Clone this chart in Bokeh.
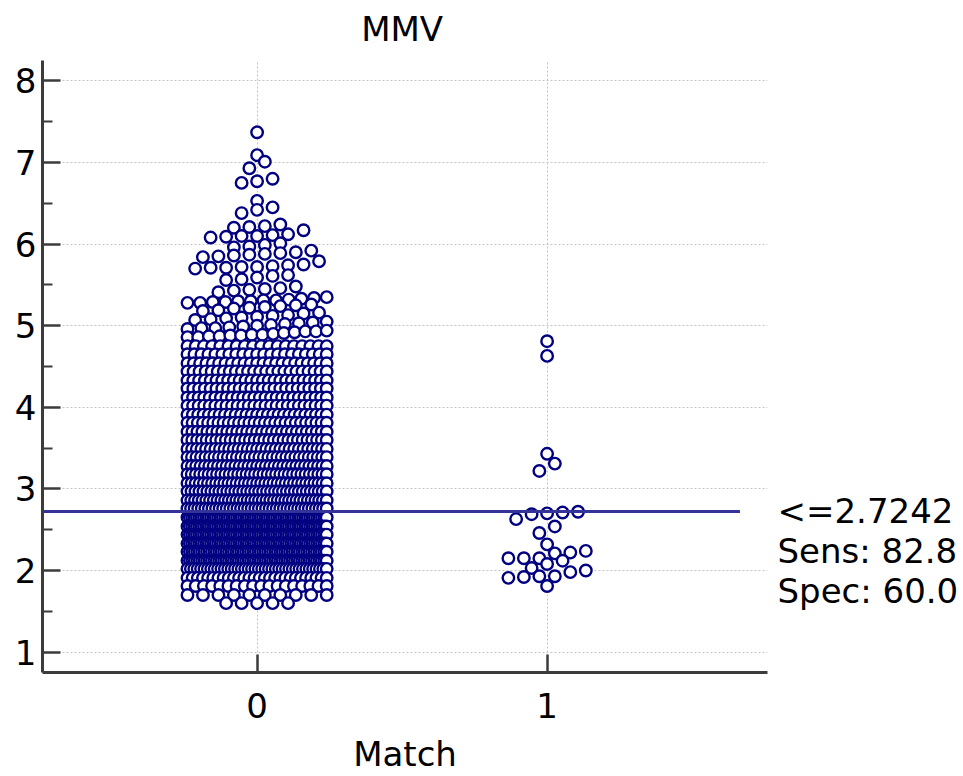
import numpy as np
from bokeh.plotting import figure
from bokeh.models import Range1d, FixedTicker, LinearAxis, ColumnDataSource
from bokeh.embed import file_html
from bokeh.resources import INLINE

# ---- data -------------------------------------------------------------
# Match = 0: dense body, each level with the number of observations on it
g0_levels = [1.60, 1.70, 1.81, 1.91, 2.02, 2.12, 2.23, 2.33, 2.44, 2.54, 2.65,
             2.76, 2.86, 2.97, 3.07, 3.18, 3.28, 3.39, 3.49, 3.60, 3.70,
             3.81, 3.91, 4.02, 4.12, 4.23, 4.33, 4.44, 4.54, 4.65, 4.75]
g0_counts = [5, 10, 18, 28, 42, 58, 58, 60, 60, 60, 60,
             40, 38, 36, 35, 34, 33, 32, 31, 30, 29,
             28, 27, 26, 26, 25, 25, 24, 23, 21, 18]
# Match = 0: upper tail, individual observations
g0_tail = [4.86, 4.86, 4.87, 4.87, 4.88, 4.88, 4.89, 4.89, 4.90, 4.91, 4.92, 4.93, 4.93, 4.94,
           4.96, 4.97, 4.97, 4.98, 4.99, 5.00, 5.01, 5.02, 5.03, 5.04, 5.05,
           5.07, 5.08, 5.09, 5.10, 5.11, 5.12, 5.13, 5.15, 5.16,
           5.18, 5.19, 5.21, 5.22, 5.23, 5.24, 5.25, 5.26,
           5.28, 5.28, 5.29, 5.29, 5.30, 5.30, 5.31, 5.31, 5.32, 5.33, 5.34, 5.35,
           5.41, 5.43, 5.44, 5.45, 5.46, 5.48,
           5.56, 5.57, 5.59, 5.61, 5.62,
           5.70, 5.71, 5.71, 5.72, 5.72, 5.73, 5.74, 5.75, 5.79,
           5.84, 5.85, 5.86, 5.87, 5.88, 5.89, 5.90, 5.92,
           5.96, 5.97, 5.99, 6.01,
           6.08, 6.09, 6.10, 6.10, 6.11, 6.12, 6.17,
           6.20, 6.21, 6.22, 6.24,
           6.38, 6.42, 6.45,
           6.53,
           6.75, 6.77, 6.80,
           6.93, 7.01,
           7.09,
           7.37]
# Match = 1
g1_values = [1.81,
             1.91, 1.92, 1.93, 1.93, 1.98, 2.00,
             2.03, 2.08, 2.12,
             2.15, 2.15, 2.15, 2.21, 2.22, 2.24,
             2.32,
             2.46, 2.54,
             2.63, 2.69, 2.70, 2.71, 2.72,
             3.22, 3.31,
             3.43,
             4.63,
             4.81]
categories = ["0", "1"]
criterion = 2.7242
chart_title = "MMV"

g0_values = np.concatenate([np.repeat(g0_levels, g0_counts), g0_tail])
g1_arr = np.asarray(g1_values, float)

sens = 100.0 * np.mean(g1_arr <= criterion)
spec = 100.0 * np.mean(g0_values > criterion)


def dot_layout(values, center, tol=0.095, step=0.0534, half=0.24):
    """Group sorted values into rows and spread each row around the centre."""
    v = np.sort(np.asarray(values, float))
    rows, i = [], 0
    while i < len(v):
        j = i
        while j < len(v) and v[j] - v[i] < tol:
            j += 1
        rows.append(v[i:j])
        i = j
    xs, ys = [], []
    for row in rows[::-1]:          # top rows first, lower rows drawn over them
        n = len(row)
        s = step if (n - 1) * step <= 2 * half else 2 * half / (n - 1)
        offs = (np.arange(n) - (n - 1) / 2.0) * s
        xs.extend(center + offs)
        ys.extend(row)
    return xs, ys


x0, y0 = dot_layout(g0_values, 0.0)
x1, y1 = dot_layout(g1_arr, 1.0)
src = ColumnDataSource(dict(x=list(x0) + list(x1), y=list(y0) + list(y1)))

# ---- figure -----------------------------------------------------------
FONT = "DejaVu Sans"
FS = "34px"
AXIS_COL = "#3c3c3c"
Y0, Y1 = 0.75, 8.25
FRAME_H = 776 - 60 - 104

p = figure(width=963, height=776,
           x_range=Range1d(-0.74, 1.76), y_range=Range1d(Y0, Y1),
           output_backend="svg", toolbar_location=None,
           min_border_left=42, min_border_right=196,
           min_border_top=60, min_border_bottom=104)
p.outline_line_color = None
p.background_fill_color = "white"
p.border_fill_color = "white"

# axes
p.xaxis.ticker = FixedTicker(ticks=[0, 1])
p.xaxis.major_label_overrides = {0: categories[0], 1: categories[1]}
p.yaxis.ticker = FixedTicker(ticks=list(range(1, 9)),
                             minor_ticks=[k + 0.5 for k in range(1, 8)])
p.xaxis.axis_label = "Match"
for ax in (p.xaxis, p.yaxis):
    ax.axis_line_color = AXIS_COL
    ax.axis_line_width = 3
    ax.major_tick_line_color = AXIS_COL
    ax.major_tick_line_width = 2.5
    ax.major_tick_in = 18
    ax.major_tick_out = 0
    ax.minor_tick_line_color = AXIS_COL
    ax.minor_tick_line_width = 2
    ax.minor_tick_in = 10
    ax.minor_tick_out = 0
    ax.major_label_text_font = FONT
    ax.major_label_text_font_size = FS
    ax.major_label_text_color = "black"
    ax.axis_label_text_font = FONT
    ax.axis_label_text_font_size = FS
    ax.axis_label_text_font_style = "normal"
    ax.axis_label_text_color = "black"
p.xaxis.minor_tick_line_color = None
p.xaxis.major_label_standoff = 20
p.xaxis.axis_label_standoff = 13
p.yaxis.major_label_standoff = 6


def label_axis(ticks, labels, standoff, **kw):
    """An axis that only carries text: no line, no ticks."""
    ax = LinearAxis(ticker=FixedTicker(ticks=ticks),
                    major_label_overrides=dict(zip(ticks, labels)), **kw)
    ax.axis_line_color = None
    ax.major_tick_line_color = None
    ax.minor_tick_line_color = None
    ax.major_tick_in = 0
    ax.major_tick_out = 0
    ax.major_label_standoff = standoff
    ax.major_label_text_font = FONT
    ax.major_label_text_font_size = FS
    ax.major_label_text_color = "black"
    return ax


# chart title, centred over the plot area
p.add_layout(label_axis([0.5], [chart_title], 12), "above")

# dotted grid
p.xgrid.ticker = FixedTicker(ticks=[0, 1])
p.ygrid.ticker = FixedTicker(ticks=list(range(1, 9)))
for g in (p.xgrid, p.ygrid):
    g.grid_line_color = "#c4c4c4"
    g.grid_line_dash = "2 2"
    g.grid_line_width = 1

# dots
p.scatter("x", "y", source=src, marker="circle", size=11.5,
          fill_color="white", line_color="#000080", line_width=2.4)

# criterion line
p.segment(x0=[-0.74], x1=[1.665], y0=[criterion], y1=[criterion],
          line_color="#333399", line_width=3)

# criterion text at the right, on its own range with one unit per text line
LINE_PX = 40.0
units = FRAME_H / LINE_PX
start = -(criterion - Y0) / (Y1 - Y0) * units
p.extra_y_ranges = {"crit": Range1d(start, start + units)}
crit_texts = ["<=%.4f" % criterion, "Sens: %.1f" % sens, "Spec: %.1f" % spec]
p.add_layout(label_axis([0, -1, -2], crit_texts, 10, y_range_name="crit"), "right")

open("out.html", "w").write(file_html(p, INLINE))
